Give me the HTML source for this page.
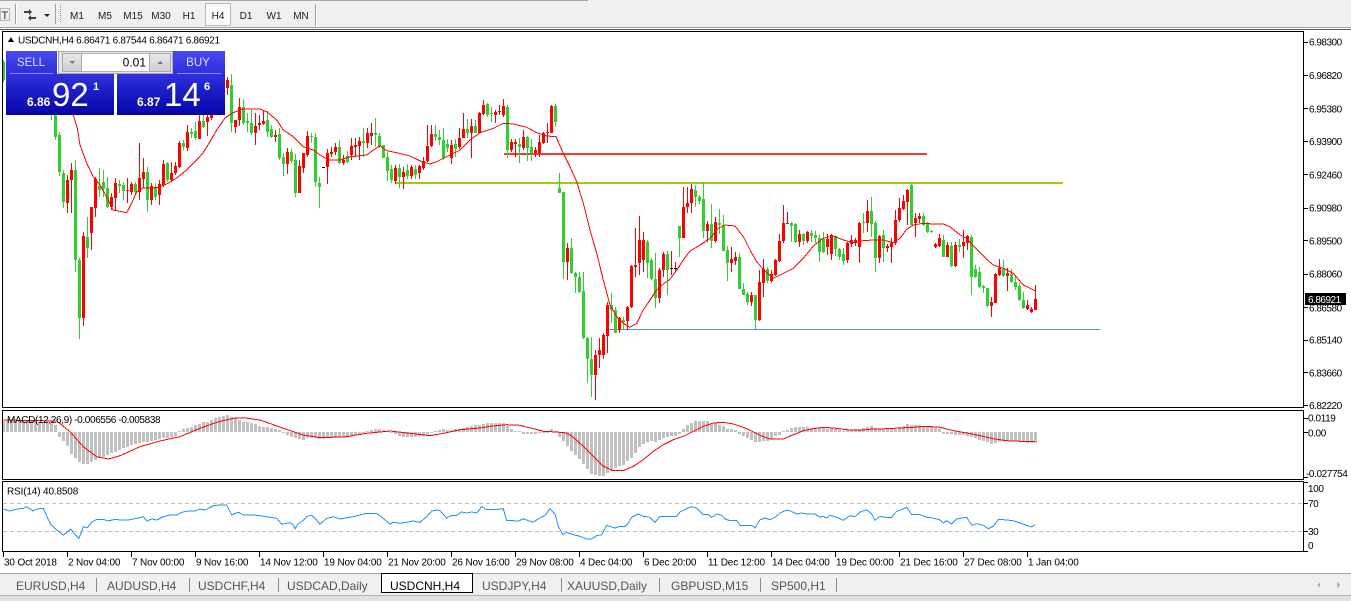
<!DOCTYPE html>
<html><head><meta charset="utf-8">
<style>
html,body{margin:0;padding:0;background:#fff;}
body{width:1351px;height:601px;overflow:hidden;position:relative;}
svg{position:absolute;left:0;top:0;}
text{font-family:"Liberation Sans",Arial,sans-serif;}
</style></head><body>
<svg width="1351" height="601" viewBox="0 0 1351 601" xmlns="http://www.w3.org/2000/svg" shape-rendering="crispEdges">
<defs>
<linearGradient id="btn" x1="0" y1="0" x2="0" y2="1"><stop offset="0" stop-color="#4a4af0"/><stop offset="1" stop-color="#2e2edc"/></linearGradient>
<linearGradient id="box" x1="0" y1="0" x2="0" y2="1"><stop offset="0" stop-color="#3030de"/><stop offset="1" stop-color="#0404a6"/></linearGradient>
<linearGradient id="gbtn" x1="0" y1="0" x2="0" y2="1"><stop offset="0" stop-color="#e8e8e8"/><stop offset="1" stop-color="#cfcfcf"/></linearGradient>
</defs>

<!-- toolbar -->
<rect x="0" y="0" width="1351" height="28" fill="#f0f0f0"/>
<line x1="0" y1="0.5" x2="588" y2="0.5" stroke="#a8a8a8"/>
<line x1="0" y1="27.5" x2="1351" y2="27.5" stroke="#a0a0a0"/>
<line x1="0" y1="29.5" x2="1351" y2="29.5" stroke="#5a5a5a"/>
<rect x="0.5" y="8.5" width="9" height="12" fill="none" stroke="#808080" stroke-dasharray="1,1"/>
<text x="1.5" y="19" font-size="11" fill="#303030">T</text>
<line x1="15.5" y1="4" x2="15.5" y2="24" stroke="#a0a0a0"/>
<line x1="16.5" y1="4" x2="16.5" y2="24" stroke="#ffffff"/>
<g shape-rendering="auto">
<path d="M24 11 L29 11 L29 9 L32 12 L29 15 L29 13 L24 13 Z" fill="#404040"/>
<path d="M36 19 L31 19 L31 21 L28 18 L31 15 L31 17 L36 17 Z" fill="#404040"/>
<path d="M44 14 L50 14 L47 17 Z" fill="#202020"/>
</g>
<line x1="55.5" y1="4" x2="55.5" y2="24" stroke="#a0a0a0"/>
<line x1="60.5" y1="5" x2="60.5" y2="23" stroke="#909090" stroke-dasharray="1,1"/>
<rect x="205.5" y="3.5" width="25" height="22" fill="#fbfbfb" stroke="#b8b8b8"/>
<g font-size="10" fill="#202020" text-anchor="middle">
<text x="77" y="19">M1</text><text x="105" y="19">M5</text><text x="133" y="19">M15</text><text x="161" y="19">M30</text><text x="189" y="19">H1</text><text x="218" y="19">H4</text><text x="246" y="19">D1</text><text x="274" y="19">W1</text><text x="301" y="19">MN</text>
</g>
<line x1="315.5" y1="4" x2="315.5" y2="26" stroke="#a0a0a0"/>
<line x1="316.5" y1="4" x2="316.5" y2="26" stroke="#ffffff"/>

<!-- horizontal objects -->
<rect x="504" y="153" width="423" height="2" fill="#f03c3c"/>
<rect x="396" y="182" width="667" height="2" fill="#99cc11"/>
<rect x="608" y="329" width="492" height="1" fill="#4a8fd6"/>

<!-- candles -->
<g id="cd"></g>

<!-- MA -->
<polyline fill="none" stroke="#ff0000" stroke-width="1" points="62,100 70,108 74,117 77.3,128 80,145 86.7,163 93.3,177 100,185 106.7,197 113,210 126.7,212.7 131.7,203 136.7,191.7 143,188 156.7,187.7 166.7,184 176.7,178 186.7,170 196.7,160 203,153 210,141.7 216.7,130 225,118 233,112.7 243,109 260,109 266.7,111.7 276.7,120 283.3,130 293.3,136.7 303.3,146.7 313.3,150 320,155 328.3,160 340,160 350,156.7 366.7,155 373.3,150 380,145.7 386.7,150.7 396.7,152.7 410,156 421.7,161.7 430,164 436.7,161.7 446.7,156.7 460,150 470,140 480,132.7 493.3,128.3 503.3,123.3 513.3,124 526.7,127.3 536.7,132.7 546.7,136 556,136.7 563.3,153.3 570,166.7 576.7,181.7 583.3,203.3 590,230 596.7,253.3 603.3,280 610,305 616.7,316.7 623.3,323.3 630,327.3 636.7,323.3 643.3,310 650,300 656.7,290 663.3,284 670,279.3 676.7,270 683.3,260 690,251 700,245 710,238.3 718.3,228.3 725,225 735,226 743.3,236.7 750,250 756.7,261.7 763.3,269.3 773.3,278.3 783.3,273.3 793.3,268.3 803.3,258.3 813.3,246 823.3,238.3 833.3,236 843.3,240 853.3,242.7 863.3,240.7 873.3,240 883.3,240 893.3,242.7 900,238.3 906.7,229.3 913.3,225 923.3,223.3 933.3,224 943.3,224 950,226.7 960,235 966.7,238.3 976.7,249.3 986.7,259.3 993.3,265 1003.3,268.3 1013.3,273.3 1023.3,285 1035,290.7"/>

<!-- MACD -->
<g id="mh"></g>
<polyline fill="none" stroke="#ff0000" stroke-width="1" points="3.3,420 56.7,421 70,431.7 83.3,446.7 96.7,456.7 108.3,459 120,455.7 140,446.7 160,441 180,436.7 200,428.3 216.7,422.3 233.3,418.3 243.3,417.7 260,420 283.3,428.3 303.3,435 320,437.7 346.7,436.7 366.7,433.3 390,431 410,433.3 430,435.7 445,433 460,429.7 480,428 490,426.3 506.7,424.7 520,425.3 533.3,428.7 543.3,431.3 556.7,432 566.7,433 573.3,437.3 583.3,446.3 593.3,456.3 603.3,466.3 613.3,470.7 623.3,470.7 633.3,466.3 643.3,459.7 653.3,451.3 663.3,444.7 673.3,439.7 683.3,436.3 693.3,431.3 703.3,426.3 713.3,423 723.3,422.3 733.3,424 743.3,427.3 750,430.3 760,435.3 770,439 783.3,439 793.3,434.7 803.3,430.7 813.3,428.7 823.3,427.3 833.3,428 846.7,429.7 860,430.3 873.3,429 886.7,428.7 900,428 913.3,427.3 926.7,426.3 940,427.3 953.3,430.7 966.7,433 980,435.7 993.3,438.7 1006.7,440.7 1020,441.3 1035,441.3"/>

<!-- RSI -->
<line x1="3" y1="503.5" x2="1303" y2="503.5" stroke="#c0c0c0" stroke-dasharray="4,3"/>
<line x1="3" y1="531.5" x2="1303" y2="531.5" stroke="#c0c0c0" stroke-dasharray="4,3"/>
<polyline fill="none" stroke="#1e90ff" stroke-width="1" points="3.3,509 10,511 16.7,509 23.3,508.3 26.7,506.7 30,509 33.3,511 36.7,509 43.3,508.3 50,523.3 56.7,530 63.3,535 66.7,532.3 70.7,529 74,533.3 79,538.3 83.3,526.7 87.3,527.7 91.7,522.3 96.7,519.3 103.3,519.3 108.3,521 115,519.3 120,520 128.3,520 133.3,519 140,517.7 143.3,516.7 146.7,521 151.7,519 156.7,520 163.3,516.7 170,515 176.7,515 181.7,512.3 188.3,511 195,511 200,509 205,510 213.3,505.7 220,505 226.7,505 231.7,515 238.3,512.3 243.3,515 253.3,515 260,515.7 266.7,516.7 276.7,518.3 281.7,524.3 286.7,523.3 290,522.7 293.3,525 295,529 298.3,523.3 301.7,521.7 306.7,516.7 311.7,515 315,518.3 320,524.3 326.7,518.3 333.3,516.7 340,519 346.7,517.7 353.3,516.7 366.7,513.3 376.7,513.3 383.3,518.3 390,524.3 393.3,522.3 400,523.3 406.7,522.3 413.3,521 420,522.3 426.7,516.7 431.7,511 436.7,510 440,510.7 446.7,518 451.7,515.3 456.7,515.3 461.7,512 466.7,513 471.7,512 476.7,513 481.7,506.7 486.7,509.7 493.3,509.7 503.3,508.7 506.7,520.7 513.3,520.7 518.3,521.3 523.3,518.7 530,521.3 533.3,522 540,518 545,515.3 550,508.7 555,514 558.3,526.3 562.7,534.7 566.7,532.3 573.3,534.7 580,536.3 586.7,539 591.7,539 596.7,535.7 601.7,534.7 606.7,525.3 611.7,527 615,528 620,526.3 625,526.3 628.3,523 631.7,517.3 638.3,514 643.3,516.3 650,517.3 655,522.3 660,516.3 665,516.3 676.7,516.3 680,512 686.7,508.7 691.7,506.7 696.7,508 703.3,514.7 708.3,514.7 711.7,517.3 716.7,514 721.7,515.3 725,519 730,520.7 736.7,520.7 740,525.3 750,525.3 753.3,526.3 755,528 760,519.7 765,518 770,519.7 775,517.3 780,513 785,510.7 790,510.7 796.7,514 801.7,513 806.7,514 815,514 820,517.3 823.3,516.3 826.7,518 830,515.3 836.7,517.3 843.3,520.3 850,515.7 855,516.7 860,512 866.7,509.7 871.7,514 875,520.3 880,516.3 885,517.3 891.7,517.3 896.7,511.3 901.7,509.7 906.7,507.3 911.7,514.7 920,514.7 926.7,517.3 933.3,518 940,520 943.3,523 946.7,520.7 951.7,524 956.7,519 966.7,517.3 971.7,525.3 976.7,523.7 983.3,525.3 988.3,528.7 993.3,526.3 998.3,519.7 1003.3,519.7 1013.3,520.7 1020,523 1026.7,525.3 1031.7,527 1035,524.7"/>

<!-- panel frames -->
<g fill="none" stroke="#000" stroke-width="1">
<rect x="2.5" y="31.5" width="1301" height="376"/>
<rect x="2.5" y="410.5" width="1301" height="69"/>
<rect x="2.5" y="481.5" width="1301" height="70"/>
</g>

<!-- header -->
<path d="M8 42 L11 37 L14 42 Z" fill="#000"/>
<text x="18" y="43.5" font-size="10" letter-spacing="-0.3" fill="#000">USDCNH,H4  6.86471 6.87544 6.86471 6.86921</text>

<!-- trade panel -->
<rect x="6" y="51" width="51" height="23" fill="url(#btn)"/>
<line x1="10" y1="73.5" x2="53" y2="73.5" stroke="#8a8af5"/>
<text x="31" y="66" font-size="11.5" fill="#dcdcff" text-anchor="middle">SELL</text>
<rect x="58.5" y="51.5" width="114" height="22" fill="#e4e4e4" stroke="#a8a8a8"/>
<rect x="81.5" y="53.5" width="68" height="18" fill="#ffffff" stroke="#b4b4b4"/>
<rect x="62.5" y="53.5" width="19" height="18" fill="url(#gbtn)" stroke="#a8a8a8"/>
<rect x="149.5" y="53.5" width="21" height="18" fill="url(#gbtn)" stroke="#a8a8a8"/>
<path d="M69 61 L75 61 L72 64 Z" fill="#6a78a8"/>
<path d="M157 64 L163 64 L160 61 Z" fill="#6a78a8"/>
<text x="146" y="66.5" font-size="12" fill="#000" text-anchor="end">0.01</text>
<rect x="173" y="51" width="52" height="23" fill="url(#btn)"/>
<line x1="177" y1="73.5" x2="221" y2="73.5" stroke="#8a8af5"/>
<text x="198" y="66" font-size="11.5" fill="#dcdcff" text-anchor="middle">BUY</text>
<rect x="6" y="74" width="108" height="41" fill="url(#box)"/>
<rect x="117" y="74" width="108" height="41" fill="url(#box)"/>
<text x="27" y="106" font-size="12" font-weight="bold" fill="#fff">6.86</text>
<text x="52" y="106" font-size="33" fill="#fff">92</text>
<text x="93" y="90" font-size="11" font-weight="bold" fill="#fff">1</text>
<text x="137" y="106" font-size="12" font-weight="bold" fill="#fff">6.87</text>
<text x="164" y="106" font-size="33" fill="#fff">14</text>
<text x="204" y="90" font-size="11" font-weight="bold" fill="#fff">6</text>

<!-- price axis -->
<g stroke="#000">
<line x1="1304" y1="42.5" x2="1308" y2="42.5"/><line x1="1304" y1="75.5" x2="1308" y2="75.5"/><line x1="1304" y1="108.5" x2="1308" y2="108.5"/><line x1="1304" y1="141.5" x2="1308" y2="141.5"/><line x1="1304" y1="174.5" x2="1308" y2="174.5"/><line x1="1304" y1="208.5" x2="1308" y2="208.5"/><line x1="1304" y1="240.5" x2="1308" y2="240.5"/><line x1="1304" y1="274.5" x2="1308" y2="274.5"/><line x1="1304" y1="307.5" x2="1308" y2="307.5"/><line x1="1304" y1="340.5" x2="1308" y2="340.5"/><line x1="1304" y1="372.5" x2="1308" y2="372.5"/><line x1="1304" y1="405.5" x2="1308" y2="405.5"/>
<line x1="1304" y1="432.5" x2="1308" y2="432.5"/><line x1="1304" y1="418.5" x2="1308" y2="418.5"/><line x1="1304" y1="477.5" x2="1308" y2="477.5"/>
<line x1="1304" y1="503.5" x2="1308" y2="503.5"/><line x1="1304" y1="531.5" x2="1308" y2="531.5"/><line x1="1304" y1="482.5" x2="1308" y2="482.5"/><line x1="1304" y1="551.5" x2="1308" y2="551.5"/>
</g>
<g font-size="10" letter-spacing="-0.5" fill="#000">
<text x="1309" y="45.6">6.98300</text>
<text x="1309" y="78.9">6.96820</text>
<text x="1309" y="112.3">6.95380</text>
<text x="1309" y="144.9">6.93900</text>
<text x="1309" y="178.3">6.92460</text>
<text x="1309" y="211.6">6.90980</text>
<text x="1309" y="244.3">6.89500</text>
<text x="1309" y="277.6">6.88060</text>
<text x="1309" y="311.6">6.86580</text>
<text x="1309" y="343.6">6.85140</text>
<text x="1309" y="376.3">6.83660</text>
<text x="1309" y="408.9">6.82220</text>
</g>
<rect x="1305" y="293" width="41" height="12" fill="#000"/>
<text x="1308" y="302.8" font-size="10" letter-spacing="-0.5" fill="#fff">6.86921</text>
<g font-size="10" letter-spacing="-0.4" fill="#000">
<text x="1308" y="421.3">0.0119</text>
<text x="1308" y="436.3">0.00</text>
<text x="1306" y="476.8">-0.027754</text>
<text x="1308" y="491.9">100</text>
<text x="1308" y="506.9">70</text>
<text x="1308" y="534.9">30</text>
<text x="1308" y="548.9">0</text>
</g>

<!-- indicator labels -->
<text x="7" y="423" font-size="10" letter-spacing="-0.36" fill="#000">MACD(12,26,9) -0.006556 -0.005838</text>
<text x="7" y="494.5" font-size="10" letter-spacing="-0.15" fill="#000">RSI(14) 40.8508</text>

<!-- time axis -->
<g id="tt" stroke="#000"></g>
<g font-size="10" letter-spacing="-0.15" fill="#000">
<text x="4" y="565.5">30 Oct 2018</text>
<text x="68" y="565.5">2 Nov 04:00</text>
<text x="132" y="565.5">7 Nov 00:00</text>
<text x="196" y="565.5">9 Nov 16:00</text>
<text x="260" y="565.5">14 Nov 12:00</text>
<text x="324" y="565.5">19 Nov 04:00</text>
<text x="388" y="565.5">21 Nov 20:00</text>
<text x="452" y="565.5">26 Nov 16:00</text>
<text x="516" y="565.5">29 Nov 08:00</text>
<text x="580" y="565.5">4 Dec 04:00</text>
<text x="644" y="565.5">6 Dec 20:00</text>
<text x="708" y="565.5">11 Dec 12:00</text>
<text x="772" y="565.5">14 Dec 04:00</text>
<text x="836" y="565.5">19 Dec 00:00</text>
<text x="900" y="565.5">21 Dec 16:00</text>
<text x="964" y="565.5">27 Dec 08:00</text>
<text x="1028" y="565.5">1 Jan 04:00</text>
</g>

<!-- tabs -->
<rect x="0" y="573" width="1351" height="23" fill="#f0f0f0"/>
<line x1="0" y1="573.5" x2="1351" y2="573.5" stroke="#a0a0a0"/>
<rect x="0" y="596" width="1351" height="5" fill="#e2e2e2"/>
<line x1="0" y1="595.5" x2="1351" y2="595.5" stroke="#b4b4b4"/>
<rect x="381.5" y="573.5" width="91" height="19" fill="#ffffff" stroke="#000"/>
<g stroke="#8a8a8a">
<line x1="96.5" y1="578" x2="96.5" y2="592"/><line x1="189.5" y1="578" x2="189.5" y2="592"/><line x1="278.5" y1="578" x2="278.5" y2="592"/><line x1="561.5" y1="578" x2="561.5" y2="592"/><line x1="659.5" y1="578" x2="659.5" y2="592"/><line x1="760.5" y1="578" x2="760.5" y2="592"/><line x1="836.5" y1="578" x2="836.5" y2="592"/>
</g>
<g font-size="12" fill="#555">
<text x="16" y="590">EURUSD,H4</text>
<text x="107" y="590">AUDUSD,H4</text>
<text x="198" y="590">USDCHF,H4</text>
<text x="287" y="590">USDCAD,Daily</text>
<text x="390" y="590" fill="#000">USDCNH,H4</text>
<text x="482" y="590">USDJPY,H4</text>
<text x="567" y="590">XAUUSD,Daily</text>
<text x="671" y="590">GBPUSD,M15</text>
<text x="771" y="590">SP500,H1</text>
</g>
<path d="M1320 582 L1317 585 L1320 588 Z" fill="#b0b0b0"/>
<path d="M1337 582 L1340 585 L1337 588 Z" fill="#b0b0b0"/>
</svg>

<script>
(function(){
var K=[
[3,'g',62,80,60,82],
[7,'g',70,80,66,84],[11,'r',72,82,68,86],[15,'g',75,88,70,92],[19,'r',80,90,76,95],[23,'g',78,86,74,90],[27,'g',82,92,78,96],[31,'r',85,95,80,100],[35,'g',88,98,84,102],[39,'r',90,100,86,104],[43,'g',92,100,88,106],[47,'g',95,104,90,108],
[51,'g',100,112,95,120],[55,'g',105,137,102,140],[59,'g',135,172,132,176],[63,'g',173,202,170,208],[67,'r',180,203,175,213],[71,'r',170,180,163,213],[75,'g',170,260,160,272],[79,'g',260,318,258,339],[83,'r',236,318,232,326],[87,'g',237,248,217,258],[91,'r',207,233,207,250],[95,'r',179,208,177,217],[99,'g',186,190,168,197],[103,'g',182,189,170,197],[107,'g',188,207,177,208],[111,'r',197,207,193,210],[115,'r',183,198,178,211],[119,'g',184,186,180,193],[123,'g',185,191,182,200],[127,'r',190,191,178,203],[131,'r',184,192,182,195],[135,'g',184,192,182,195],[139,'r',178,192,143,200],[143,'r',172,179,158,188],[147,'g',172,200,167,212],[151,'r',186,200,183,205],[155,'g',187,197,183,200],[159,'r',184,195,180,205],[163,'r',164,185,160,187],[167,'g',163,180,162,182],[171,'r',173,180,162,182],[175,'r',166,173,162,175],[179,'r',143,167,141,168],[183,'g',143,147,140,150],[187,'r',132,148,125,151],[191,'g',132,134,128,138],[195,'g',131,138,122,140],[199,'r',121,139,115,139],[203,'g',121,127,115,128],[207,'r',117,122,115,136],[211,'r',105,118,100,120],[215,'r',98,106,95,110],[219,'r',95,100,90,105],[223,'g',93,98,88,100],[227,'r',80,88,77,95],[231,'g',85,123,74,132],
[235,'r',120,127,120,133],[239,'r',107,120,98,126],[243,'g',107,123,99,125],[247,'g',121,123,113,132],[251,'g',123,133,110,135],[255,'r',126,133,113,145],[259,'r',123,125,115,130],[263,'r',121,124,110,125],[267,'g',120,132,111,137],[271,'g',129,137,125,138],[275,'r',135,137,130,142],[279,'g',134,158,128,160],[283,'g',157,164,153,176],[287,'r',152,164,148,174],[291,'g',152,161,149,163],[295,'g',160,193,154,197],[299,'r',166,193,160,193],[303,'r',153,168,153,173],[307,'r',136,155,131,157],[311,'g',136,137,133,143],[315,'g',137,182,133,187],[319,'g',183,187,177,208],[323,'k',167,167,167,167],[327,'r',153,167,149,184],[331,'r',152,154,147,157],[335,'r',147,152,143,155],[339,'g',147,163,140,164],[343,'r',160,163,155,165],[347,'g',156,162,151,163],[351,'r',146,155,138,160],[355,'r',145,147,138,157],[359,'r',141,146,137,160],[363,'g',141,143,128,157],[367,'r',133,143,128,148],[371,'r',133,136,123,145],[375,'g',133,135,118,147],[379,'g',136,146,133,148],[383,'g',145,158,145,158],[387,'g',157,171,152,181],[391,'g',169,180,165,183],[395,'r',168,181,165,184],[399,'g',168,177,164,188],[403,'r',172,177,167,189],[407,'g',170,176,164,179],[411,'r',167,176,165,179],[415,'g',169,175,165,179],[419,'r',166,173,165,179],[423,'r',161,168,157,170],[427,'r',146,161,125,162],[431,'r',134,146,125,147],[435,'g',134,137,125,141],[439,'g',137,140,130,145],[443,'g',140,158,128,160],[447,'g',144,148,139,152],[451,'r',145,158,140,164],[455,'g',144,149,139,157],[459,'r',138,147,128,149],[463,'r',129,138,113,138],[467,'g',129,133,119,138],[471,'r',126,133,119,158],[475,'g',126,133,120,133],[479,'r',113,133,112,133],[483,'r',105,114,100,115],[487,'g',104,115,103,117],[491,'g',113,114,107,122],[495,'r',112,115,110,123],[499,'r',111,112,105,115],[503,'r',106,115,99,117],[507,'g',107,150,105,158],[511,'r',142,150,139,152],[515,'r',142,144,139,157],[519,'g',144,147,138,163],[523,'r',137,148,130,150],[527,'g',137,148,136,161],[531,'g',147,153,139,161],[535,'r',150,153,147,157],[539,'r',142,153,135,157],[543,'r',133,143,132,144],[547,'r',132,133,123,143],[551,'r',106,133,105,133],[555,'g',106,122,104,127],
[559,'g',188,193,173,193],[563,'g',192,262,192,279],[567,'r',248,262,243,280],[571,'g',248,273,238,274],[575,'g',273,277,272,293],[579,'g',277,292,272,293],[583,'g',291,338,272,339],[587,'g',338,359,337,383],[591,'g',359,375,337,397],[595,'r',355,375,350,400],[599,'r',350,355,338,368],[603,'r',335,355,333,359],[607,'r',305,336,302,353],[611,'g',305,310,293,323],[615,'g',310,333,307,333],[619,'r',318,330,317,333],[623,'g',320,322,317,330],[627,'r',307,321,306,330],[631,'r',266,307,265,308],[635,'r',265,267,228,277],[639,'r',240,263,216,275],[643,'r',240,260,232,272],[647,'g',242,263,240,278],[651,'g',260,279,258,280],[655,'g',279,298,253,308],[659,'r',270,298,268,303],[663,'r',254,270,252,277],[667,'g',254,270,251,295],[671,'k',268,269,251,275],[675,'k',268,269,262,272],[679,'g',226,238,226,257],
[683,'r',207,238,187,238],[687,'r',203,207,187,213],[691,'r',189,203,184,213],[695,'g',190,197,185,207],[699,'g',197,201,195,204],[703,'g',199,231,182,238],[707,'r',224,231,221,242],[711,'g',224,241,204,248],[715,'r',222,241,217,243],[719,'g',223,225,209,234],[723,'g',225,251,215,251],[727,'g',250,263,246,281],[731,'r',259,263,247,272],[735,'r',257,261,252,265],[739,'g',257,289,253,289],[743,'g',289,295,283,295],[747,'g',294,302,292,305],[751,'r',295,302,292,306],[755,'g',295,320,295,329],[759,'r',282,320,270,321],[763,'r',269,283,259,297],[767,'g',269,281,267,283],[771,'r',274,281,270,283],[775,'r',260,275,259,276],[779,'r',241,261,234,262],[783,'r',223,241,205,243],[787,'r',223,224,212,224],[791,'g',223,226,222,242],[795,'g',224,242,223,243],[799,'r',234,242,230,247],[803,'g',234,241,233,245],[807,'r',232,241,231,243],[811,'g',233,236,230,242],[815,'g',235,238,231,243],[819,'g',238,252,235,262],[823,'g',239,252,232,253],[827,'r',239,247,234,255],[831,'r',235,254,234,260],[835,'g',236,249,235,256],[839,'g',249,257,248,260],[843,'g',254,261,248,265],[847,'r',243,260,242,263],[851,'r',240,244,235,247],[855,'r',240,243,238,246],[859,'r',223,247,222,263],[863,'g',222,223,213,233],[867,'r',211,223,200,232],[871,'g',211,224,197,237],[875,'g',223,258,221,272],[879,'r',236,258,235,263],[883,'g',235,248,230,262],[887,'r',246,248,244,252],[891,'r',243,247,238,263],[895,'r',220,243,210,245],[899,'r',208,220,198,222],[903,'r',201,209,195,210],[907,'r',190,202,189,225],[911,'g',185,225,183,225],[915,'r',218,223,213,237],[919,'r',216,219,213,223],[923,'g',216,225,213,226],[927,'g',223,232,222,233],[931,'g',231,232,230,233],[935,'r',244,247,243,248],[939,'r',238,246,234,247],[943,'g',240,257,235,257],[947,'r',245,257,242,257],[951,'g',246,266,242,267],[955,'r',245,266,242,267],[959,'g',245,247,239,252],[963,'r',242,246,230,258],[967,'r',236,243,235,250],[971,'g',237,277,235,295],[975,'g',269,277,265,278],[979,'g',272,287,267,288],[983,'g',286,288,285,293],[987,'g',288,306,288,307],[991,'r',302,306,297,317],[995,'r',274,303,273,303],[999,'r',268,275,259,276],[1003,'g',269,276,260,277],[1007,'r',273,276,268,291],[1011,'g',274,282,269,283],[1015,'g',282,287,275,290],[1019,'g',286,300,283,301],[1023,'g',300,308,292,309],[1027,'r',305,309,300,310],[1031,'r',309,312,307,313],[1035,'r',299,310,285,310]
];
var S='';
for(var i=0;i<K.length;i++){
 var c=K[i],x=c[0];
 var col=c[1]=='g'?'#32cd32':(c[1]=='r'?'#ff0000':'#000000');
 var wc=c[1]=='g'?'#32cd32':'#ff0000';
 if(c[5]>c[4]) S+='<rect x="'+x+'" y="'+c[4]+'" width="1" height="'+(c[5]-c[4])+'" fill="'+wc+'"/>';
 var h=Math.max(1,c[3]-c[2]);
 S+='<rect x="'+(x-1)+'" y="'+c[2]+'" width="3" height="'+h+'" fill="'+col+'"/>';
}
document.getElementById('cd').innerHTML=S;

var H=[421,421,421,421,420.5,420.5,421,421,421,421.5,
422,422.5,423,425,436.7,441,445.7,454,458,462,
464.3,464.3,462,460,458.3,456.7,455,453.3,451.7,450,
448.3,446.7,445,444.3,443.3,442.3,441.7,441,440,439,
438.3,437.7,436.7,435.7,431,429,427.7,426.7,425,424,
422.3,421.7,420,418.3,416.7,416,415,416.7,418.3,420,
421.7,422.3,423.3,424.3,425.7,426.7,427.3,428.3,429,430,
433.3,435,436.7,438.3,439,440,438.3,437.7,438.3,439.3,
439.3,438.3,437.7,437.7,436.7,436.7,436,435.7,435,434.3,
433.3,431,430,429.3,429.3,430,430.7,433.3,434.3,435.7,
436.7,437.3,437.3,436.7,436,435.7,434.3,433.3,431,429.5,
429,429.5,429.5,429,428.5,428,427.3,426.3,425.3,424.7,
424,423.3,423,423,423,423.3,425.5,428.7,430.7,431.3,
434,434,434,433.5,433.3,433,431.5,429,431,437,
441.3,445.7,450.7,454.7,459,464,469,473.7,474.7,475.7,
475.7,473,470.7,468,466.3,464.7,461.3,458,453,447.3,
444,442.3,441.3,442.3,439.7,438,437.3,436.3,435.7,434,
428.7,425.3,423,420.7,420.7,420.7,421.3,423,423,424.7,
426.3,428.7,429,430.3,434,436,438.3,439.7,442.3,442.3,
440.7,440.7,438.7,436.3,435.3,431.3,429.7,428,427.3,427,
427.3,427.3,428,428,428,427.3,428.7,428,428.7,430,
430.7,430,429.7,428.7,428.7,428,427,426.3,428,428.7,
429.3,429.3,429.3,428.7,427,426.3,424,424.7,424.7,424.7,
426.3,427,427.3,428,429.3,433.7,434,434,434.7,435.3,
435.3,436.3,437.3,438,439.7,440.7,442.3,443.7,443,442,
441.3,441.3,441.3,441.3,441.3,441.3,443,443.3,443.3];
var Z=432,M='';
for(var j=0;j<H.length;j++){
 var xx=3+4*j,v=Math.round(H[j]);
 var t=Math.min(v,Z),b=Math.max(v,Z);
 if(b-t<1)b=t+1;
 M+='<rect x="'+(xx-1)+'" y="'+t+'" width="3" height="'+(b-t)+'" fill="#c0c0c0"/>';
}
document.getElementById('mh').innerHTML=M;

var T='';
for(var k=0;k<17;k++){var tx=3+64*k+0.5;T+='<line x1="'+tx+'" y1="552" x2="'+tx+'" y2="557"/>';}
document.getElementById('tt').innerHTML=T;
})();
</script>
</body></html>
